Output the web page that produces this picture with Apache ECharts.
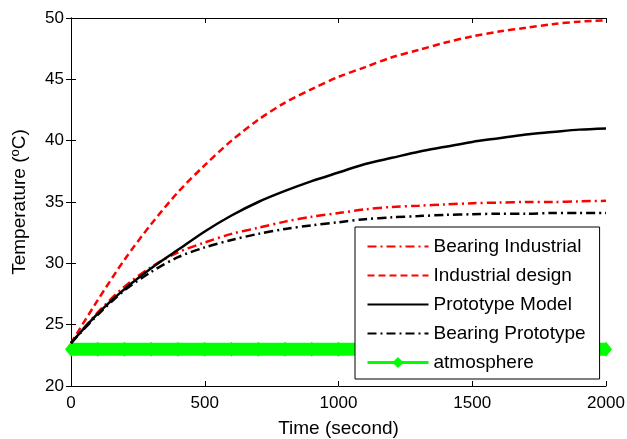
<!DOCTYPE html>
<html><head><meta charset="utf-8">
<script src="https://cdn.jsdelivr.net/npm/echarts@6/dist/echarts.min.js"></script>
<style>html,body{margin:0;padding:0;background:#fff}#c{width:627px;height:439px}</style>
</head><body><div id="c"></div>
<script>
const times = [0,100,200,300,400,500,600,700,800,900,1000,1100,1200,1300,1400,1500,1600,1700,1800,1900,2000];
const bearingIndustrial = [23.5,26.0,28.1,29.7,30.9,31.7,32.4,32.9,33.4,33.8,34.1,34.4,34.6,34.7,34.8,34.9,34.95,35.0,35.0,35.05,35.1];
const industrialDesign = [23.5,27.0,30.3,33.2,35.8,38.0,40.0,41.7,43.1,44.2,45.2,46.0,46.8,47.4,48.0,48.5,48.9,49.2,49.5,49.7,49.8];
const prototypeModel = [23.5,25.9,27.9,29.6,31.1,32.6,33.9,35.0,35.9,36.7,37.4,38.1,38.6,39.1,39.5,39.9,40.2,40.5,40.7,40.9,41.0];
const bearingPrototype = [23.5,25.8,27.8,29.3,30.5,31.3,31.9,32.4,32.8,33.1,33.35,33.6,33.75,33.85,33.95,34.0,34.05,34.05,34.1,34.1,34.1];
const atmosphere = [23,23,23,23,23,23,23,23,23,23,23,23,23,23,23,23,23,23,23,23,23];
const seriesNames = ['Bearing Industrial','Industrial design','Prototype Model','Bearing Prototype','atmosphere'];
const xTickStep = 500, xMin = 0, xMax = 2000;
const yTickStep = 5, yMin = 20, yMax = 50;

const FONT = 'Liberation Sans, Arial, sans-serif';
const pair = (ys) => times.map((t, i) => [t, ys[i]]);
const chart = echarts.init(document.getElementById('c'), null, {renderer: 'canvas'});
const axLine = {show: true, lineStyle: {color: '#000', width: 1}};
const tick = {show: true, inside: true, length: 5, lineStyle: {color: '#000'}};
const lbl = {color: '#000', fontSize: 17, fontFamily: FONT, formatter: (v) => String(v)};
const hideSym = {opacity: 0};

chart.setOption({
  animation: false,
  backgroundColor: '#fff',
  grid: {left: 71, right: 21, top: 18, bottom: 53, containLabel: false, outerBoundsMode: 'none'},
  legend: {
    orient: 'vertical', left: 355, top: 227,
    padding: [10, 14, 7, 11],
    itemWidth: 61, itemHeight: 14, itemGap: 10,
    borderColor: '#000', borderWidth: 1, backgroundColor: '#fff',
    textStyle: {fontSize: 19, fontFamily: FONT, color: '#000'},
    data: [
      {name: seriesNames[0], itemStyle: hideSym},
      {name: seriesNames[1], itemStyle: hideSym},
      {name: seriesNames[2], itemStyle: hideSym},
      {name: seriesNames[3], itemStyle: hideSym},
      {name: seriesNames[4], lineStyle: {width: 3}, itemStyle: {color: '#00ff00'}}
    ]
  },
  xAxis: [
    {type: 'value', position: 'bottom', min: xMin, max: xMax, interval: xTickStep,
     axisLine: axLine, axisTick: tick, splitLine: {show: false},
     axisLabel: Object.assign({margin: 9}, lbl),
     name: 'Time (second)', nameLocation: 'middle', nameGap: 33,
     nameTextStyle: {color: '#000', fontSize: 19, fontFamily: FONT}},
    {type: 'value', position: 'top', min: xMin, max: xMax, interval: xTickStep,
     axisLine: axLine, axisTick: tick, splitLine: {show: false}, axisLabel: {show: false}}
  ],
  yAxis: [
    {type: 'value', position: 'left', min: yMin, max: yMax, interval: yTickStep,
     axisLine: axLine, axisTick: tick, splitLine: {show: false},
     axisLabel: Object.assign({margin: 7}, lbl),
     name: 'Temperature ({sup|o}C)', nameLocation: 'middle', nameGap: 41,
     nameTextStyle: {color: '#000', fontSize: 19, fontFamily: FONT,
       rich: {sup: {fontSize: 13, fontFamily: FONT, color: '#000', padding: [0, 0, 8, 0]}}}},
    {type: 'value', position: 'right', min: yMin, max: yMax, interval: yTickStep,
     axisLine: axLine, axisTick: tick, splitLine: {show: false}, axisLabel: {show: false}}
  ],
  series: [
    {name: seriesNames[0], type: 'line', data: pair(bearingIndustrial), symbol: 'none', smooth: 0.3,
     lineStyle: {color: '#ff0000', width: 2.5, type: [9, 4, 2, 4]}, itemStyle: {color: '#ff0000'}},
    {name: seriesNames[1], type: 'line', data: pair(industrialDesign), symbol: 'none', smooth: 0.3,
     lineStyle: {color: '#ff0000', width: 2.5, type: [7, 4]}, itemStyle: {color: '#ff0000'}},
    {name: seriesNames[2], type: 'line', data: pair(prototypeModel), symbol: 'none', smooth: 0.3,
     lineStyle: {color: '#000', width: 2.5, type: 'solid'}, itemStyle: {color: '#000'}},
    {name: seriesNames[3], type: 'line', data: pair(bearingPrototype), symbol: 'none', smooth: 0.3,
     lineStyle: {color: '#000', width: 2.5, type: [9, 4, 2, 4]}, itemStyle: {color: '#000'}},
    {name: seriesNames[4], type: 'line', data: pair(atmosphere), clip: false,
     symbol: 'diamond', symbolSize: [12, 15], showAllSymbol: true,
     lineStyle: {color: '#00ff00', width: 13}, itemStyle: {color: '#00ff00'}, z: 1}
  ]
});
</script></body></html>
